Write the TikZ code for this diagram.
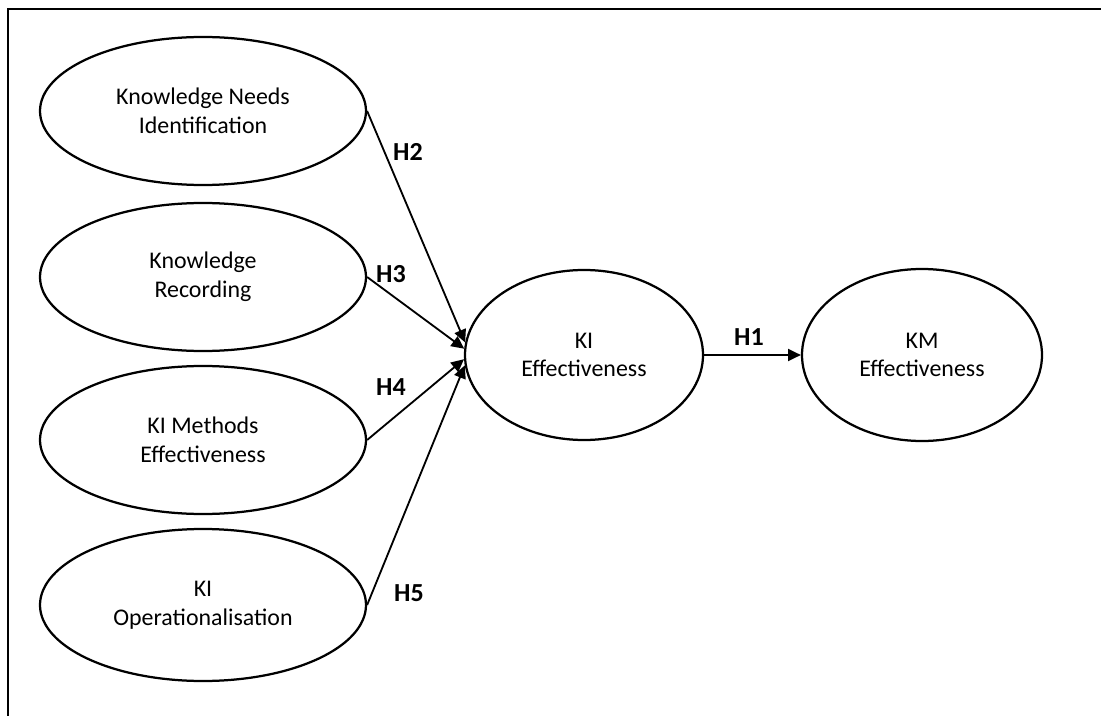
\documentclass[tikz,border=0pt]{standalone}
\usepackage{fontspec}
\setmainfont{Carlito}
\usetikzlibrary{shapes.geometric, arrows.meta}
\tikzstyle{construct} = [ellipse, draw, line width=1.6pt, inner sep=0pt, align=center, font=\fontsize{17}{20.5}\selectfont]
\tikzstyle{arrow} = [line width=1.3pt, -{Triangle[length=0.32cm, width=0.3cm]}]
\tikzstyle{hyp} = [font=\fontsize{18.5}{22}\selectfont\bfseries]

\begin{document}
\begin{tikzpicture}

\useasboundingbox (0,0) rectangle (27.525,-17.9);
\draw[line width=1.6pt] (27.525,-0.225) -| (0.2,-17.9);

% left side

\node[construct, minimum width=8.15cm, minimum height=3.7cm] (needs) at (5.075,-2.775) {Knowledge Needs\\Identification};
\node[construct, minimum width=8.15cm, minimum height=3.7cm] (recording) at (5.075,-6.925) {Knowledge\\Recording};
\node[construct, minimum width=8.15cm, minimum height=3.7cm] (methods) at (5.075,-11.0) {KI Methods\\Effectiveness};
\node[construct, minimum width=8.15cm, minimum height=3.8cm] (operational) at (5.075,-15.125) {KI\\Operationalisation};

% right side

\node[construct, minimum width=5.95cm, minimum height=4.25cm] (ki_eff) at (14.6,-8.875) {KI\\Effectiveness};
\node[construct, minimum width=6.0cm, minimum height=4.3cm] (km_eff) at (23.05,-8.875) {KM\\Effectiveness};

\draw [arrow] (needs.east) -- (ki_eff.174);
\draw [arrow] (recording.east) -- (ki_eff.177);
\draw [arrow] (methods.east) -- (ki_eff.182);
\draw [arrow] (operational.east) -- (ki_eff.185);
\draw [arrow] (ki_eff.east) -- (km_eff.west);

\node[hyp] (h2) at (10.2,-3.8) {H2};
\node[hyp] (h3) at (9.775,-6.85) {H3};
\node[hyp] (h4) at (9.775,-9.675) {H4};
\node[hyp] (h5) at (10.225,-14.825) {H5};
\node[hyp] (h1) at (18.725,-8.425) {H1};

\end{tikzpicture}
\end{document}
